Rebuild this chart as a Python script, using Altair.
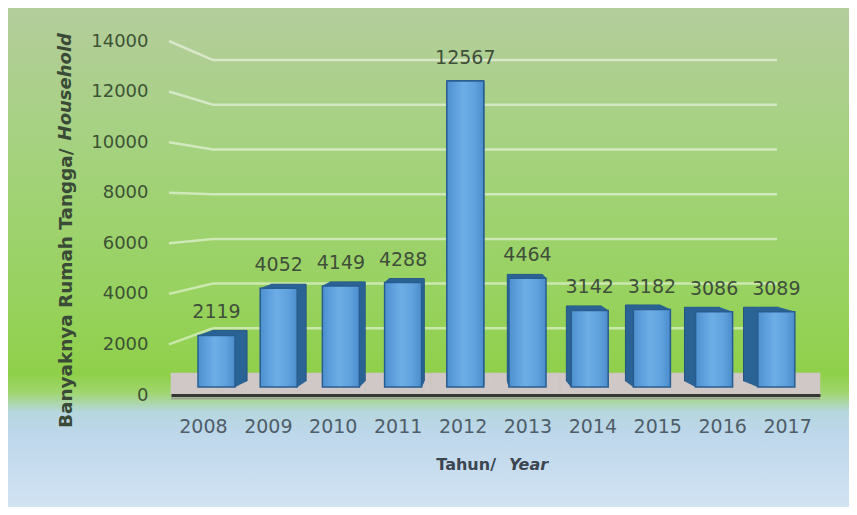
import altair as alt
import pandas as pd

# ---------------- data ----------------
years = ["2008", "2009", "2010", "2011", "2012", "2013", "2014", "2015", "2016", "2017"]
households = [2119, 4052, 4149, 4288, 12567, 4464, 3142, 3182, 3086, 3089]
y_ticks = [0, 2000, 4000, 6000, 8000, 10000, 12000, 14000]
grid_values = [2000, 4000, 6000, 8000, 10000, 12000, 14000]
y_title_main = "Banyaknya Rumah Tangga/"
y_title_italic = "Household"
x_title_main = "Tahun/"
x_title_italic = "Year"

# ---------------- layout / style ----------------
W, H = 649, 354
PAD = {"left": 163, "top": 33, "right": 29, "bottom": 112}
BACK_BASE, BACK_RATIO = 870, 0.884   # back wall of the 3-D box, in axis units
NUM_FONT = "DejaVu Sans"

# front / back face ranges of the 3-D bars (pixels inside plot area)
FRONT_X, BACK_X = (14.4, 636.4), (29.0, 619.6)
FRONT_Y, BACK_Y = (346.0, 5.1), (340.0, 5.7)
DEPTH_STEPS = 10

df = pd.DataFrame({"year": years, "value": households})
grid_df = pd.DataFrame({"v": grid_values})
one = pd.DataFrame({"k": [0]})

bg_fill = alt.LinearGradient(
    gradient="linear", x1=0, y1=0, x2=0, y2=1,
    stops=[
        alt.GradientStop(offset=0.0, color="#b4cd9c"),
        alt.GradientStop(offset=0.28, color="#a5d27f"),
        alt.GradientStop(offset=0.585, color="#97d25e"),
        alt.GradientStop(offset=0.735, color="#8fd04a"),
        alt.GradientStop(offset=0.77, color="#a0d56e"),
        alt.GradientStop(offset=0.81, color="#b6d7de"),
        alt.GradientStop(offset=0.85, color="#bdd7ea"),
        alt.GradientStop(offset=1.0, color="#d2e3f3"),
    ],
)

bg = alt.Chart(one).mark_rect(fill=bg_fill).encode(
    x=alt.value(-PAD["left"]), x2=alt.value(W + PAD["right"]),
    y=alt.value(-PAD["top"]), y2=alt.value(H + PAD["bottom"]),
)

# ---- axis layer: floor, back-wall gridlines, axes, titles ----
floor = alt.Chart(df).mark_rect(color="#d0c7c7", stroke="#d0c7c7", strokeWidth=0.5).encode(
    x=alt.X("year:N", scale=alt.Scale(paddingInner=0, paddingOuter=0),
            axis=alt.Axis(title=None, ticks=False, domainColor="#363636", domainWidth=3,
                          labelFont=NUM_FONT, labelFontSize=19, labelColor="#4f5d69",
                          labelPadding=22, labelAngle=0, zindex=1)),
    y=alt.datum(BACK_BASE),
    y2=alt.datum(0),
)

grid_h = alt.Chart(grid_df).transform_calculate(
    vb=f"{BACK_BASE} + {BACK_RATIO} * datum.v"
).mark_rule(stroke="#ffffff", strokeOpacity=0.5, strokeWidth=2.5).encode(
    y=alt.Y("vb:Q", scale=alt.Scale(domain=[0, 14000]),
            axis=alt.Axis(values=y_ticks, title=None, ticks=False, domain=False, grid=False,
                          labelFont=NUM_FONT, labelFontSize=18, labelColor="#3d5335",
                          labelPadding=23, format="d", zindex=1)),
    x=alt.value(42), x2=alt.value(606),
)

grid_s = alt.Chart(grid_df).transform_calculate(
    vb=f"{BACK_BASE} + {BACK_RATIO} * datum.v"
).mark_rule(stroke="#ffffff", strokeOpacity=0.5, strokeWidth=2.5).encode(
    y="v:Q", y2="vb:Q", x=alt.value(-2), x2=alt.value(42),
)

shadow = alt.Chart(one).mark_rule(stroke="#98a290", strokeWidth=2).encode(
    x=alt.value(0), x2=alt.value(W), y=alt.value(H + 3.5),
)

xt1 = alt.Chart(one).mark_text(text=x_title_main, font=NUM_FONT, fontWeight="bold", fontSize=16,
                               align="right", baseline="middle", color="#3b4651").encode(
    x=alt.value(325), y=alt.value(424))
xt2 = alt.Chart(one).mark_text(text=x_title_italic, font=NUM_FONT, fontWeight="bold", fontStyle="italic",
                               fontSize=16, align="left", baseline="middle", color="#3b4651").encode(
    x=alt.value(338), y=alt.value(424))
yt1 = alt.Chart(one).mark_text(text=y_title_main, font=NUM_FONT, fontWeight="bold", fontSize=18.4,
                               angle=270, align="left", baseline="middle", color="#3a4a37").encode(
    x=alt.value(-105), y=alt.value(387))
yt2 = alt.Chart(one).mark_text(text=y_title_italic, font=NUM_FONT, fontWeight="bold", fontStyle="italic",
                               fontSize=18, angle=270, align="right", baseline="middle", color="#3a4a37").encode(
    x=alt.value(-105), y=alt.value(-8))

axis_layer = alt.layer(floor, grid_h, grid_s, shadow, xt1, xt2, yt1, yt2)


# ---- extruded depth of the 3-D bars (back face towards front) ----
def lerp(a, b, t):
    return a + (b - a) * t


depth_layers = []
for i in range(DEPTH_STEPS, 0, -1):
    t = i / DEPTH_STEPS
    xr = [lerp(FRONT_X[0], BACK_X[0], t), lerp(FRONT_X[1], BACK_X[1], t)]
    yr = [lerp(FRONT_Y[0], BACK_Y[0], t), lerp(FRONT_Y[1], BACK_Y[1], t)]
    pi = lerp(0.405, 0.407, t)
    depth_layers.append(
        alt.Chart(df).mark_bar(fill="#2c6496", stroke="#22517d" if i == DEPTH_STEPS else "#2c6496",
                               strokeWidth=1 if i == DEPTH_STEPS else 0.6).encode(
            x=alt.X("year:N", scale=alt.Scale(range=xr, paddingInner=pi, paddingOuter=pi / 2), axis=None),
            y=alt.Y("value:Q", scale=alt.Scale(domain=[0, 14000], range=yr), axis=None),
        )
    )

# ---- front faces + labels ----
front_fill = alt.LinearGradient(
    gradient="linear", x1=0, y1=0, x2=1, y2=0,
    stops=[
        alt.GradientStop(offset=0.0, color="#4d90cf"),
        alt.GradientStop(offset=0.2, color="#5c9edb"),
        alt.GradientStop(offset=0.45, color="#6daee6"),
        alt.GradientStop(offset=0.75, color="#5fa2dd"),
        alt.GradientStop(offset=1.0, color="#4b8dcc"),
    ],
)
front_bars = alt.Chart(df).mark_bar(fill=front_fill, stroke="#2a5d8f", strokeWidth=1.5).encode(
    x=alt.X("year:N", scale=alt.Scale(range=list(FRONT_X), paddingInner=0.405, paddingOuter=0.2025), axis=None),
    y=alt.Y("value:Q", scale=alt.Scale(domain=[0, 14000], range=list(FRONT_Y)), axis=None),
)
labels = alt.Chart(df).mark_text(font=NUM_FONT, fontSize=19, color="#3f4f3a",
                                 baseline="bottom", dy=-13).encode(
    x="year:N", y="value:Q", text="value:Q",
)
front = alt.layer(front_bars, labels)

chart = alt.layer(bg, axis_layer, *depth_layers, front).resolve_scale(
    x="independent", y="independent"
).properties(
    width=W, height=H, padding=PAD, autosize=alt.AutoSizeParams(type="none"),
).configure_view(strokeWidth=0)

chart.save("out.html", embed_options={"renderer": "svg", "actions": False})
